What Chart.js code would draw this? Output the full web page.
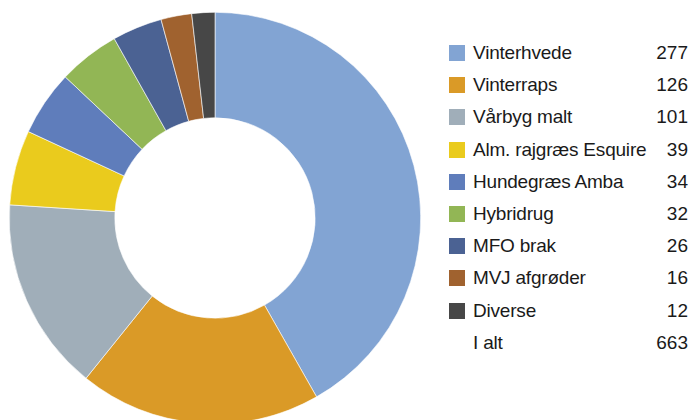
<!DOCTYPE html>
<html>
<head>
<meta charset="utf-8">
<script src="https://cdn.jsdelivr.net/npm/chart.js@4/dist/chart.umd.min.js"></script>
<style>
  html, body { margin: 0; padding: 0; background: #fff; width: 691px; height: 420px; overflow: hidden; }
  #wrap { position: absolute; left: 9px; top: 12px; width: 412px; height: 412px; }
  #legend { position: absolute; left: 449px; top: 37px; width: 240px; font-family: "Liberation Sans", Arial, sans-serif; font-size: 19px; color: #1a1a1a; }
  .row { position: relative; height: 32.2px; line-height: 32.2px; }
  .sw { position: absolute; left: 0; top: 8px; width: 16px; height: 16px; }
  .lb { position: absolute; left: 24px; top: 0; white-space: nowrap; letter-spacing: -0.2px; }
  .vl { position: absolute; right: 1px; top: 0; }
</style>
</head>
<body>
<div id="wrap"><canvas id="c" width="412" height="412"></canvas></div>
<div id="legend"></div>
<script>
const categories = ["Vinterhvede", "Vinterraps", "Vårbyg malt", "Alm. rajgræs Esquire", "Hundegræs Amba", "Hybridrug", "MFO brak", "MVJ afgrøder", "Diverse"];
const values = [277, 126, 101, 39, 34, 32, 26, 16, 12];
const colors = ["#82A4D3", "#DA9A27", "#A0AEB9", "#EACB1D", "#5F7DBB", "#92B655", "#4B6293", "#A0622F", "#474747"];
const totalLabel = "I alt";
const totalValue = 663;

const legend = document.getElementById('legend');
categories.forEach((c, i) => {
  const r = document.createElement('div');
  r.className = 'row';
  r.innerHTML = '<span class="sw" style="background:' + colors[i] + '"></span><span class="lb"></span><span class="vl"></span>';
  r.querySelector('.lb').textContent = c;
  r.querySelector('.vl').textContent = values[i];
  legend.appendChild(r);
});
const tr = document.createElement('div');
tr.className = 'row';
tr.innerHTML = '<span class="lb"></span><span class="vl"></span>';
tr.querySelector('.lb').textContent = totalLabel;
tr.querySelector('.vl').textContent = totalValue;
legend.appendChild(tr);

new Chart(document.getElementById('c'), {
  type: 'doughnut',
  data: {
    labels: categories,
    datasets: [{
      data: values,
      backgroundColor: colors,
      borderColor: '#ffffff',
      borderWidth: 0.6,
      hoverOffset: 0
    }]
  },
  options: {
    responsive: false,
    animation: false,
    cutout: '48.7%',
    layout: { padding: 0 },
    plugins: { legend: { display: false }, tooltip: { enabled: false } }
  }
});
</script>
</body>
</html>
